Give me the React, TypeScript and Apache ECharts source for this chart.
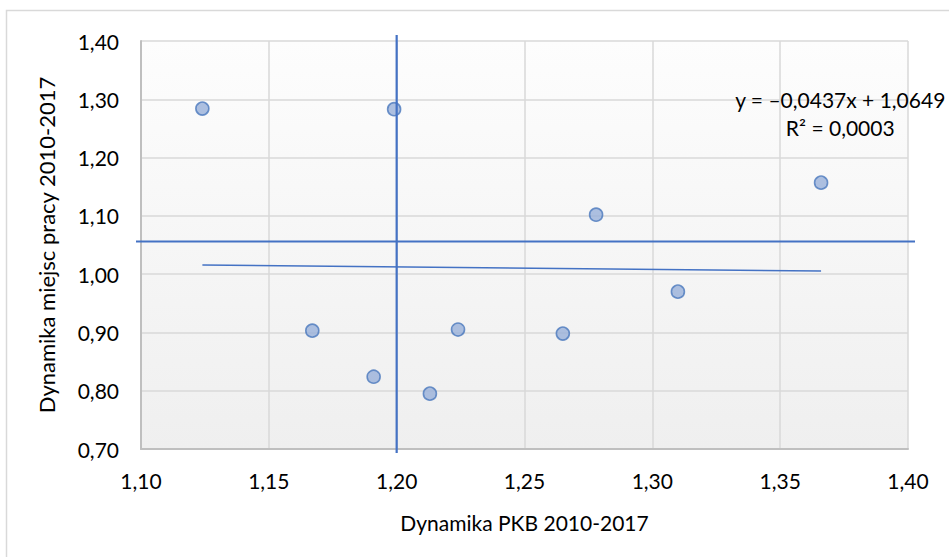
import React, { useEffect, useRef } from "react";
import * as echarts from "echarts";

const xValues = [1.124, 1.199, 1.366, 1.278, 1.310, 1.167, 1.224, 1.265, 1.191, 1.213];
const yValues = [1.284, 1.283, 1.157, 1.102, 0.970, 0.903, 0.905, 0.898, 0.824, 0.795];
const trendSlope = -0.0437;
const trendIntercept = 1.0649;
const trendLabel = ["y = \u20130,0437x + 1,0649", "R\u00b2 = 0,0003"];
const vLineX = 1.2;
const hLineY = 1.056;
const xTitle = "Dynamika PKB 2010-2017";
const yTitle = "Dynamika miejsc pracy 2010-2017";

const FONT = "Lato";
const fmt = (v: number) => v.toFixed(2).replace(".", ",");

export default function App() {
  const ref = useRef<HTMLDivElement>(null);
  useEffect(() => {
    if (!ref.current) return;
    const chart = echarts.init(ref.current, null, { renderer: "svg" });
    const pts = xValues.map((x, i) => [x, yValues[i]]);
    const xmin = Math.min(...xValues);
    const xmax = Math.max(...xValues);
    const trend = [
      [xmin, trendSlope * xmin + trendIntercept],
      [xmax, trendSlope * xmax + trendIntercept],
    ];
    const axisLabel = { fontFamily: FONT, fontSize: 21, color: "#000" };
    chart.setOption({
      animation: false,
      textStyle: { fontFamily: FONT },
      grid: {
        left: 141,
        top: 41,
        right: 41,
        bottom: 108,
        show: true,
        borderWidth: 0,
        backgroundColor: new echarts.graphic.LinearGradient(0, 0, 0, 1, [
          { offset: 0, color: "#fdfdfd" },
          { offset: 1, color: "#efefef" },
        ]),
      },
      xAxis: {
        type: "value",
        min: 1.1,
        max: 1.4,
        interval: 0.05,
        name: xTitle,
        nameLocation: "middle",
        nameGap: 63,
        nameTextStyle: { fontFamily: FONT, fontSize: 21, color: "#000" },
        axisLine: { show: true, lineStyle: { color: "#bfbfbf", width: 2 } },
        axisTick: { show: false },
        axisLabel: { ...axisLabel, margin: 21, formatter: fmt },
        splitLine: { show: true, lineStyle: { color: "#d9d9d9", width: 1.5 } },
      },
      yAxis: {
        type: "value",
        min: 0.7,
        max: 1.4,
        interval: 0.1,
        name: yTitle,
        nameLocation: "middle",
        nameGap: 84,
        nameRotate: 90,
        nameTextStyle: { fontFamily: FONT, fontSize: 22, color: "#000" },
        axisLine: { show: true, lineStyle: { color: "#bfbfbf", width: 2 } },
        axisTick: { show: false },
        axisLabel: { ...axisLabel, margin: 22, formatter: fmt },
        splitLine: { show: true, lineStyle: { color: "#d9d9d9", width: 1.5 } },
      },
      series: [
        {
          type: "line",
          data: trend,
          symbol: "none",
          lineStyle: { color: "#4472c4", width: 1.5 },
          z: 2,
        },
        {
          type: "scatter",
          data: pts,
          symbol: "circle",
          symbolSize: 13,
          itemStyle: {
            color: "#99b0da",
            borderColor: "#4a78bd",
            borderWidth: 1.6,
          },
          z: 3,
        },
      ],
    });
    const [vx, vTop] = chart.convertToPixel({ gridIndex: 0 }, [vLineX, 1.4]) as number[];
    const [, vBot] = chart.convertToPixel({ gridIndex: 0 }, [vLineX, 0.7]) as number[];
    const [hLeft, hy] = chart.convertToPixel({ gridIndex: 0 }, [1.1, hLineY]) as number[];
    const [hRight] = chart.convertToPixel({ gridIndex: 0 }, [1.4, hLineY]) as number[];
    const [lx, ly] = chart.convertToPixel({ gridIndex: 0 }, [1.3735, 1.3228]) as number[];
    chart.setOption({
      graphic: [
        {
          type: "rect",
          shape: { x: 6.5, y: 10.5, width: 1000, height: 700 },
          style: { fill: "none", stroke: "#d9d9d9", lineWidth: 1.5 },
          silent: true,
          z: -10,
        },
        {
          type: "line",
          shape: { x1: vx, y1: vTop - 6, x2: vx, y2: vBot + 4 },
          style: { stroke: "#4472c4", lineWidth: 2.2 },
          z: 10,
        },
        {
          type: "line",
          shape: { x1: hLeft - 5, y1: hy, x2: hRight + 7, y2: hy },
          style: { stroke: "#4472c4", lineWidth: 2.2 },
          z: 10,
        },
        {
          type: "text",
          x: lx,
          y: ly,
          style: {
            text: trendLabel.join("\n"),
            fontFamily: FONT,
            fontSize: 21,
            lineHeight: 28,
            fill: "#000",
            align: "center",
            verticalAlign: "top",
          },
          z: 10,
        },
      ],
    });
    return () => chart.dispose();
  }, []);
  return (
    <div
      ref={ref}
      style={{ position: "fixed", left: 0, top: 0, width: 949, height: 557, background: "#fff" }}
    />
  );
}
